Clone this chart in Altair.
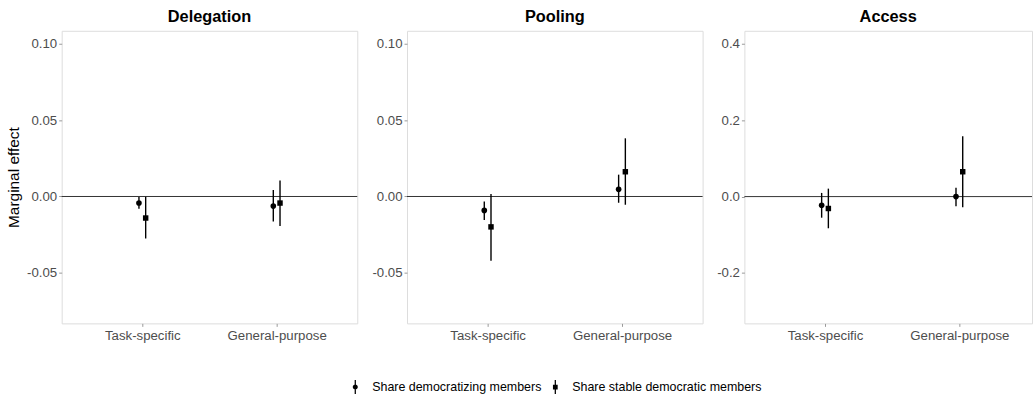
import altair as alt
import pandas as pd

panels = ["Delegation", "Pooling", "Access"]
categories = ["Task-specific", "General-purpose"]
series = ["Share democratizing members", "Share stable democratic members"]

# order within each panel: (Task, democratizing), (Task, stable), (General, democratizing), (General, stable)
delegation_est = [-0.0043, -0.0141, -0.0063, -0.0043]
delegation_lo = [-0.0080, -0.0275, -0.0164, -0.0193]
delegation_hi = [-0.0004, -0.0002, 0.0043, 0.0104]

pooling_est = [-0.0091, -0.0199, 0.0047, 0.0162]
pooling_lo = [-0.0154, -0.0420, -0.0041, -0.0054]
pooling_hi = [-0.0032, 0.0017, 0.0143, 0.0381]

access_est = [-0.0226, -0.0312, 0.0000, 0.0650]
access_lo = [-0.0553, -0.0830, -0.0250, -0.0278]
access_hi = [0.0096, 0.0208, 0.0234, 0.1577]

small_ticks = [-0.05, 0.0, 0.05, 0.10]
large_ticks = [-0.2, 0.0, 0.2, 0.4]
small_domain = [-0.0831, 0.1085]
large_domain = [-0.332, 0.434]

DODGE = 0.025
FONT = "Liberation Sans"

# legend glyphs: filled point with a thin filled vertical bar through it (same winding, so they union)
circle_path = ("M-0.36,0A0.36,0.36,0,1,1,0.36,0A0.36,0.36,0,1,1,-0.36,0Z "
               "M-0.09,-1H0.09V1H-0.09Z")
square_path = "M-0.34,-0.34H0.34V0.34H-0.34Z M-0.09,-1H0.09V1H-0.09Z"


def make_df(est, lo, hi):
    rows = []
    k = 0
    for ci, cat in enumerate(categories):
        for si, s in enumerate(series):
            rows.append({
                "category": cat,
                "series": s,
                "xpos": ci + 1 + (-DODGE if si == 0 else DODGE),
                "est": est[k], "lo": lo[k], "hi": hi[k],
            })
            k += 1
    return pd.DataFrame(rows)


label_expr = "datum.value == 1 ? '%s' : '%s'" % (categories[0], categories[1])


def panel(name, df, ticks, domain, fmt, y_extent, show_title, x_domain, width, legend=False):
    x = alt.X("xpos:Q", scale=alt.Scale(domain=x_domain, nice=False, zero=False),
              axis=alt.Axis(values=[1, 2], labelExpr=label_expr, title=None, grid=False,
                            domain=False, tickSize=3, tickColor="#999999", labelPadding=2,
                            labelFontSize=13.3, labelColor="#4d4d4d", labelFont=FONT))
    yexpr = "datum.value < 0 ? '-' + format(-datum.value, '%s') : format(datum.value, '%s')" % (fmt, fmt)
    y_axis = alt.Axis(values=ticks, labelExpr=yexpr, grid=False, domain=False, tickSize=3,
                      tickColor="#999999", labelPadding=2, labelFontSize=13.3,
                      labelColor="#4d4d4d", labelFont=FONT, minExtent=y_extent,
                      maxExtent=y_extent,
                      title="Marginal effect" if show_title else None,
                      titleFontSize=15.5, titleFont=FONT, titleFontWeight="normal",
                      titleColor="black", titlePadding=0)
    yscale = alt.Scale(domain=domain, nice=False, zero=False)
    y = alt.Y("est:Q", scale=yscale, axis=y_axis)

    base = alt.Chart(df)
    zero = alt.Chart(pd.DataFrame({"z": [0.0]})).mark_rule(color="#333333", strokeWidth=1).encode(
        y=alt.Y("z:Q", scale=yscale, axis=y_axis))
    bars = base.mark_rule(color="black", strokeWidth=1.4).encode(
        x=x, y=alt.Y("lo:Q", scale=yscale, axis=y_axis), y2="hi:Q")
    circles = base.transform_filter(alt.datum.series == series[0]).mark_point(
        shape="circle", filled=True, size=32, color="black", opacity=1).encode(x=x, y=y)
    squares = base.transform_filter(alt.datum.series == series[1]).mark_point(
        shape="square", filled=True, size=30, color="black", opacity=1).encode(x=x, y=y)
    layers = [zero, bars, circles, squares]
    if legend:
        leg = base.mark_point(filled=True, color="black", opacity=0).encode(
            x=x, y=y,
            shape=alt.Shape("series:N", scale=alt.Scale(domain=series, range=[circle_path, square_path]),
                            legend=alt.Legend(title=None, orient="none", legendX=288, legendY=351,
                                              direction="horizontal", symbolSize=196,
                                              symbolOpacity=1, symbolFillColor="black",
                                              symbolStrokeWidth=0,
                                              labelFontSize=12.5, labelFont=FONT, labelColor="black",
                                              labelLimit=0, labelOffset=10, columnPadding=6)))
        layers.append(leg)
    return alt.layer(*layers).properties(
        width=width, height=294,
        title=alt.TitleParams(name, fontSize=16.4, font=FONT, fontWeight="bold", color="black",
                              anchor="middle", offset=5))


p1 = panel(panels[0], make_df(delegation_est, delegation_lo, delegation_hi), small_ticks,
           small_domain, ".2f", 40, True, [0.4, 2.6], 297)
p2 = panel(panels[1], make_df(pooling_est, pooling_lo, pooling_hi), small_ticks,
           small_domain, ".2f", 43, False, [0.4, 2.6], 297, legend=True)
p3 = panel(panels[2], make_df(access_est, access_lo, access_hi), large_ticks,
           large_domain, ".1f", 35, False, [0.4, 0.4 + 2.2 * 289 / 297], 289)

chart = alt.hconcat(p1, p2, p3, spacing=5).properties(
    padding={"left": 6, "top": 8, "right": 0, "bottom": 0}
).configure_view(stroke="#bfbfbf", strokeWidth=1.3).configure(background="white")

chart.save("out.html", embed_options={"renderer": "svg", "actions": False})
